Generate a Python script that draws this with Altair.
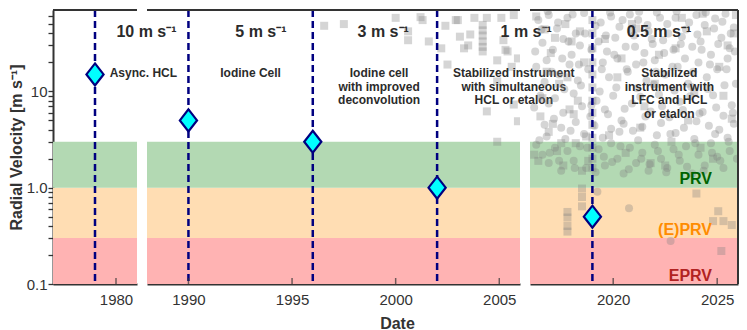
import altair as alt
import pandas as pd

# ---------------- data ----------------
era_year = [1979, 1990, 1996, 2002, 2019]
era_precision = [15, 5, 3, 1, 0.5]

heading_text = ["10 m s⁻¹", "5 m s⁻¹", "3 m s⁻¹", "1 m s⁻¹", "0.5 m s⁻¹"]
heading_x = [1981.45, 1993.5, 1999.4, 2006.3, 2022.2]
heading_panel = [0, 1, 1, 1, 2]
heading_y = 41.0

desc_lines = [
    ["Async. HCL"],
    ["Iodine Cell"],
    ["Iodine cell", "with improved", "deconvolution"],
    ["Stabilized instrument", "with simultaneous", "HCL or etalon"],
    ["Stabilized", "instrument with", "LFC and HCL", "or etalon"],
]
desc_x = [1979.7, 1993.0, 1999.2, 2005.7, 2022.7]
desc_align = ["left", "center", "center", "center", "center"]
desc_panel = [0, 1, 1, 1, 2]
desc_y = 15.4

band_lo = [0.1, 0.3, 1.0]
band_hi = [0.3, 1.0, 3.0]
band_fill = ["#ffb3b3", "#ffddb3", "#b3d9b3"]
band_name = ["EPRV", "(E)PRV", "PRV"]
band_label_y = [0.122, 0.36, 1.22]
band_label_color = ["#b22222", "#ff8c00", "#006400"]
band_label_x = 2024.75

# archival measurements (squares)
sq_year = [1996.55, 1997.5, 2000.0, 2001.2, 2000.6, 2001.6, 2000.6, 2002.4, 2002.9, 2002.5,
           2002.2, 2003.5, 2003.6, 2004.2, 2004.2, 2004.2, 2004.2, 2004.2, 2004.2, 2005.1,
           2005.4, 2004.9, 2005.9, 2004.9, 2001.3, 2003.0, 2003.1, 2003.3, 2003.8, 2004.4,
           2005.2, 2005.3, 2005.6, 2005.7, 2005.9, 2004.9, 2004.4, 2005.7,
           2019.0, 2019.0, 2019.0, 2019.0, 2019.0, 2019.0, 2019.0, 2019.0, 2019.0, 2019.0,
           2019.0, 2019.0, 2019.0,
           2016.3, 2016.7, 2017.0, 2017.4, 2017.7, 2018.0, 2018.3, 2018.6, 2016.5, 2016.9,
           2017.3, 2017.6, 2018.2, 2018.5, 2016.4, 2017.9,
           2017.8, 2017.8, 2017.8, 2017.8, 2018.5, 2018.5, 2018.5,
           2019.6, 2020.2, 2020.9, 2021.5, 2022.2, 2022.8, 2023.3, 2023.9, 2024.5, 2025.1,
           2025.7, 2024.2, 2021.8, 2025.5, 2025.9,
           2024.0, 2025.05, 2025.3, 2025.7, 2024.8, 2025.2,
           2016.2, 2016.6, 2016.8, 2017.1, 2017.2, 2017.5, 2017.8, 2018.1, 2018.4, 2018.7,
           2018.8, 2019.8, 2020.4, 2020.6, 2021.1, 2021.3, 2022.0, 2022.5, 2023.0, 2023.6,
           2024.3, 2024.8, 2025.3, 2025.8]
sq_val = [48, 50, 58, 59, 42, 33, 34, 48, 55, 19,
          28, 30, 39, 49, 43, 38, 33, 29, 26, 58,
          26, 21, 4.9, 3.0, 55, 55, 37, 28, 58, 58,
          34, 27, 18, 62, 22, 12.7, 6.2, 7.3,
          1.6, 2.0, 2.6, 3.3, 4.5, 6.0, 8.0, 11, 15, 20,
          28, 40, 55,
          60, 44, 25, 12, 50, 33, 8, 20, 5.5, 3.8,
          2.4, 1.7, 2.9, 1.5, 1.9, 6.5,
          0.56, 0.49, 0.40, 0.35, 0.98, 0.80, 0.64,
          35, 14, 50, 7, 24, 3.0, 58, 10, 42, 18,
          5.2, 2.6, 1.8, 30, 62,
          0.87, 0.57, 0.45, 0.41, 0.45, 0.22,
          2.2, 8.5, 16, 4.6, 36, 2.9, 14, 5.8, 42, 3.4,
          1.9, 3.5, 22, 2.3, 45, 4.2, 12, 1.7, 28, 5.0,
          64, 2.0, 9.0, 40]

# recent measurements (circles)
ci_year = [2016.4, 2016.9, 2017.3, 2017.8, 2018.2, 2018.6, 2019.4, 2019.9, 2020.3, 2020.8,
           2021.2, 2021.7, 2022.1, 2022.6, 2023.0, 2023.5, 2024.0, 2024.4, 2024.9, 2025.4, 2025.8,
           2016.6, 2017.1, 2017.6, 2018.0, 2018.4, 2019.3, 2019.7, 2020.1, 2020.6, 2021.0,
           2021.5, 2021.9, 2022.4, 2022.9, 2023.3, 2023.8, 2024.2, 2024.7, 2025.2, 2025.6,
           2016.3, 2016.8, 2017.4, 2017.9, 2018.3, 2018.8, 2019.5, 2019.8, 2020.2, 2020.7,
           2021.1, 2021.6, 2022.0, 2022.5, 2023.1, 2023.6, 2024.1, 2024.5, 2025.0, 2025.5, 2025.9,
           2016.5, 2016.9, 2017.2, 2017.6, 2018.1, 2018.5, 2018.9, 2019.2, 2019.6, 2020.0,
           2020.4, 2020.9, 2021.3, 2021.8, 2022.2, 2022.7, 2023.2, 2023.7, 2024.3, 2024.8,
           2025.3, 2025.7,
           2016.7, 2017.5, 2018.2, 2019.1, 2019.9, 2020.5, 2021.4, 2022.3, 2023.4, 2024.0,
           2024.6, 2025.1, 2025.8,
           2016.3, 2016.6, 2016.9, 2017.2, 2017.5, 2017.8, 2018.1, 2018.4, 2018.7, 2019.3,
           2019.6, 2019.9, 2020.2, 2020.5, 2020.8, 2021.1, 2021.4, 2021.7, 2022.0, 2022.3,
           2022.6, 2022.9, 2023.2, 2023.5, 2023.8, 2024.1, 2024.4, 2024.7, 2025.0, 2025.3, 2025.6,
           2016.8, 2017.7, 2018.6, 2019.5, 2020.3, 2021.2, 2022.1, 2023.0, 2023.9, 2024.9, 2025.5,
           2019.24, 2020.76, 2022.76,
           2016.2, 2016.45, 2016.7, 2016.95, 2017.15, 2017.4, 2017.65, 2017.95, 2018.15, 2018.45,
           2018.75, 2018.95, 2019.15, 2019.35, 2019.55, 2019.75, 2019.95, 2020.15, 2020.35, 2020.55,
           2020.75, 2020.95, 2021.15, 2021.35, 2021.55, 2021.75, 2021.95, 2022.15, 2022.35, 2022.55,
           2022.75, 2022.95, 2023.15, 2023.35, 2023.55, 2023.75, 2023.95, 2024.15, 2024.35, 2024.55,
           2024.75, 2024.95, 2025.15, 2025.35, 2025.55, 2025.75, 2025.95,
           2016.25, 2016.55, 2016.85, 2017.05, 2017.35, 2017.55, 2017.85, 2018.05, 2018.35, 2018.65,
           2018.95, 2019.15, 2019.45, 2019.65, 2019.85, 2020.05, 2020.45, 2020.65, 2020.85, 2021.05,
           2021.25, 2021.45, 2021.65, 2021.85, 2022.05, 2022.25, 2022.45, 2022.65, 2022.85, 2023.05,
           2023.25, 2023.45, 2023.65, 2023.85, 2024.05, 2024.25, 2024.45, 2024.65, 2024.85, 2025.05,
           2025.25, 2025.45, 2025.65, 2025.85]
ci_val = [55, 62, 45, 58, 40, 65, 52, 60, 47, 63,
          55, 42, 66, 50, 58, 44, 62, 49, 57, 64, 46,
          32, 27, 35, 24, 30, 33, 26, 36, 29, 38,
          25, 31, 34, 27, 37, 29, 33, 24, 36, 28,
          18, 21, 15, 19, 13, 17, 20, 14, 22, 16,
          19, 13, 21, 15, 18, 12, 20, 14, 17, 22, 12,
          9.0, 7.5, 8.5, 6.0, 9.5, 7.0, 5.5, 8.0, 6.5, 9.0,
          5.0, 7.5, 8.8, 6.2, 9.3, 5.4, 7.8, 8.9, 6.1, 9.1,
          5.6, 7.2,
          4.5, 4.2, 4.8, 4.4, 4.1, 4.6, 4.3, 4.7, 4.2, 4.9,
          4.4, 4.0, 4.6,
          2.8, 2.2, 1.8, 2.6, 1.5, 2.4, 1.9, 2.7, 1.6, 2.5,
          1.7, 2.9, 2.0, 1.4, 2.6, 1.8, 2.3, 1.5, 2.8, 2.0,
          1.6, 2.5, 1.9, 2.7, 1.4, 2.2, 1.7, 2.9, 2.1, 1.6, 2.4,
          3.4, 3.2, 3.6, 3.3, 3.8, 3.1, 3.5, 3.7, 3.2, 3.6, 3.3,
          0.91, 0.61, 0.28,
          6.8, 3.1, 12.5, 2.3, 5.2, 1.9, 10.5, 3.9, 1.6, 11.5,
          2.6, 7.2, 1.45, 10.0, 2.1, 5.8, 1.85, 11.0, 2.7, 6.6,
          1.55, 3.9, 10.8, 2.0, 5.5, 1.75, 11.8, 2.4, 7.0, 1.45,
          3.6, 10.2, 2.2, 6.4, 1.65, 11.2, 2.9, 5.9, 1.5, 10.6,
          2.3, 6.8, 1.9, 11.6, 3.0, 6.0, 2.0,
          26, 44, 68, 16, 52, 22, 33, 63, 19, 40,
          27, 48, 17, 38, 66, 24, 55, 17, 43, 29,
          67, 20, 49, 35, 16, 58, 25, 40, 18, 68,
          31, 22, 52, 16, 39, 27, 66, 19, 45, 31,
          53, 17, 40, 26]

panel_lo = [1977, 1988, 2016]
panel_hi = [1981, 2006, 2026]
panel_w = [84, 373, 208]
panel_ticks = [[1980], [1990, 1995, 2000, 2005], [2020, 2025]]

y_ticks = [0.1, 0.2, 0.3, 0.4, 0.5, 0.6, 0.7, 0.8, 0.9,
           1, 2, 3, 4, 5, 6, 7, 8, 9,
           10, 20, 30, 40, 50, 60]
Y_MIN, Y_MAX = 0.1, 70
H = 274

FRAME = "#333333"
TXT = "#2b2b2b"
NAVY = "#000080"
DIAMOND = "M0,-1L0.78,0L0,1L-0.78,0Z"
MAJOR_TEST = "datum.value == 0.1 || datum.value == 1 || datum.value == 10"


def build(i):
    lo, hi = panel_lo[i], panel_hi[i]
    xs = alt.Scale(domain=[lo, hi], nice=False, zero=False)
    ys = alt.Scale(type="log", domain=[Y_MIN, Y_MAX], nice=False)

    xaxis = alt.Axis(values=panel_ticks[i], format="d", ticks=False,
                     labelPadding=8, title="Date" if i == 1 else "",
                     titleX=250, titlePadding=8,
                     domainColor=FRAME, domainWidth=2)
    if i == 0:
        yaxis = alt.Axis(values=y_ticks,
                         labelExpr="datum.value == 0.1 ? '0.1' : datum.value == 1 ? '1.0' : datum.value == 10 ? '10' : ''",
                         labelFontSize={"condition": {"test": MAJOR_TEST, "value": 15}, "value": 0},
                         title="Radial Velocity [m s⁻¹]", tickSize=5, tickWidth=1.3,
                         tickColor=FRAME, labelPadding=1, titlePadding=2,
                         domainColor=FRAME, domainWidth=2, labelOverlap=False)
    else:
        yaxis = None

    X = lambda f: alt.X(f, type="quantitative", scale=xs, axis=xaxis)
    Y = lambda f: alt.Y(f, type="quantitative", scale=ys, axis=yaxis)

    bands_df = pd.DataFrame({"x0": [lo] * 3, "x1": [hi] * 3, "lo": band_lo,
                             "hi": band_hi, "fill": band_fill})
    layers = [alt.Chart(bands_df).mark_rect().encode(
        x=X("x0"), x2="x1:Q", y=Y("lo"), y2="hi:Q",
        color=alt.Color("fill:N", scale=None))]

    sq = pd.DataFrame({"year": sq_year, "val": sq_val})
    sq = sq[(sq.year >= lo) & (sq.year <= hi)].reset_index(drop=True)
    ci = pd.DataFrame({"year": ci_year, "val": ci_val})
    ci = ci[(ci.year >= lo) & (ci.year <= hi)].reset_index(drop=True)
    if len(sq):
        layers.append(alt.Chart(sq).mark_point(shape="square", filled=True, size=64, clip=True,
                                               color="#808080", opacity=0.33, strokeWidth=0).encode(
            x=X("year"), y=Y("val")))
    if len(ci):
        layers.append(alt.Chart(ci).mark_point(shape="circle", filled=True, size=64, clip=True,
                                               color="#808080", opacity=0.33, strokeWidth=0).encode(
            x=X("year"), y=Y("val")))

    era = pd.DataFrame({"year": era_year, "val": era_precision})
    era = era[(era.year >= lo) & (era.year <= hi)].reset_index(drop=True)
    layers.append(alt.Chart(era).mark_rule(color=NAVY, strokeWidth=2.5, strokeDash=[7, 4]).encode(
        x=X("year")))
    layers.append(alt.Chart(era).mark_point(shape=DIAMOND, size=484, filled=True, fill="#00ffff",
                                            stroke=NAVY, strokeWidth=2.2, opacity=1).encode(
        x=X("year"), y=Y("val")))

    for k in range(len(heading_text)):
        if heading_panel[k] == i:
            df = pd.DataFrame({"x": [heading_x[k]], "y": [heading_y], "t": [heading_text[k]]})
            layers.append(alt.Chart(df).mark_text(
                fontSize=16, fontWeight="bold", color=TXT,
                align="center", baseline="middle").encode(
                x=X("x"), y=Y("y"), text="t:N"))
    for k in range(len(desc_lines)):
        if desc_panel[k] == i:
            for j, line in enumerate(desc_lines[k]):
                df = pd.DataFrame({"x": [desc_x[k]], "y": [desc_y], "t": [line]})
                layers.append(alt.Chart(df).mark_text(
                    fontSize=12, fontWeight="bold", color=TXT,
                    align=desc_align[k], baseline="middle", dy=13.5 * j).encode(
                    x=X("x"), y=Y("y"), text="t:N"))
    if i == 2:
        for k in range(3):
            df = pd.DataFrame({"x": [band_label_x], "y": [band_label_y[k]], "t": [band_name[k]]})
            layers.append(alt.Chart(df).mark_text(
                fontSize=16, fontWeight="bold", color=band_label_color[k],
                align="right", baseline="middle").encode(
                x=X("x"), y=Y("y"), text="t:N"))

    # inward x ticks
    tk = pd.DataFrame({"t": panel_ticks[i], "b": [Y_MIN] * len(panel_ticks[i])})
    layers.append(alt.Chart(tk).mark_tick(orient="vertical", clip=True, size=12, thickness=1.5,
                                          color=FRAME).encode(
        x=X("t"), y=Y("b")))
    # top frame
    layers.append(alt.Chart(pd.DataFrame({"v": [Y_MAX]})).mark_rule(color=FRAME, strokeWidth=2).encode(
        y=Y("v")))
    if i == 2:
        layers.append(alt.Chart(pd.DataFrame({"v": [hi]})).mark_rule(color=FRAME, strokeWidth=2).encode(
            x=X("v")))

    return alt.layer(*layers).properties(width=panel_w[i], height=H)


chart = alt.hconcat(*[build(i) for i in range(3)], spacing=10, bounds="flush").properties(
    padding={"left": 0, "top": 0, "right": 0, "bottom": 0}
).configure(font="Liberation Sans").configure_view(stroke=None).configure_axis(
    grid=False, labelColor=FRAME, titleColor=FRAME, labelFontSize=15,
    titleFontSize=16, titleFontWeight="bold", labelFont="Liberation Sans", titleFont="Liberation Sans")

chart.save("out.html", embed_options={"renderer": "svg", "actions": False})
